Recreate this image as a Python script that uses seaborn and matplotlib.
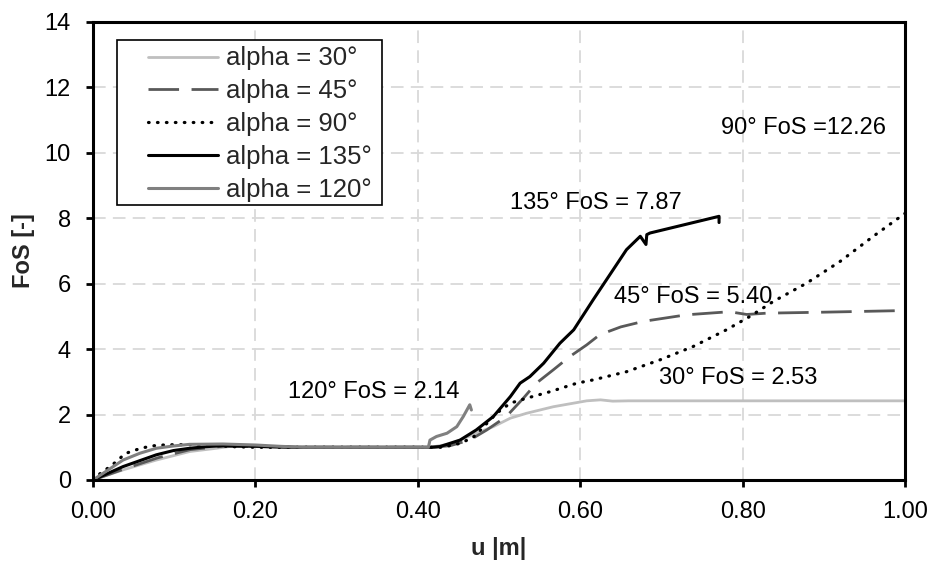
import matplotlib
matplotlib.use("Agg")
import matplotlib.pyplot as plt
from matplotlib.patches import Rectangle
import seaborn as sns
import pandas as pd

# Displacement u [m] and factor of safety for each inclination alpha
u30 = [0, 0.037, 0.078, 0.119, 0.152, 0.17, 0.2, 0.25, 0.415, 0.44, 0.455, 0.472,
       0.493, 0.514, 0.534, 0.567, 0.608, 0.625, 0.64, 0.66, 0.75, 1.0]
f30 = [0, 0.31, 0.61, 0.87, 0.97, 1.03, 1.02, 1.0, 1.0, 1.1, 1.25, 1.43,
       1.63, 1.89, 2.04, 2.24, 2.42, 2.45, 2.41, 2.42, 2.42, 2.42]

u45 = [0, 0.04, 0.08, 0.12, 0.16, 0.2, 0.25, 0.42, 0.44, 0.464, 0.485, 0.509,
       0.53, 0.546, 0.567, 0.587, 0.608, 0.624, 0.65, 0.678, 0.731, 0.776,
       0.79, 0.805, 0.83, 0.9, 1.0]
f45 = [0, 0.35, 0.68, 0.93, 1.03, 1.02, 1.0, 1.0, 1.05, 1.22, 1.53, 1.94,
       2.5, 2.96, 3.37, 3.77, 4.13, 4.44, 4.68, 4.85, 5.05, 5.13,
       5.12, 5.06, 5.1, 5.13, 5.18]

u90 = [0, 0.009, 0.021, 0.031, 0.039, 0.05, 0.058, 0.068, 0.076, 0.087, 0.1,
       0.13, 0.15, 0.17, 0.2, 0.25, 0.43, 0.452, 0.468, 0.48, 0.497, 0.514,
       0.534, 0.563, 0.596, 0.616, 0.657, 0.698, 0.739, 0.78, 0.809, 0.838,
       0.879, 0.92, 0.961, 1.0]
f90 = [0, 0.2, 0.41, 0.61, 0.8, 0.9, 0.96, 1.02, 1.05, 1.07, 1.08,
       1.08, 1.06, 1.02, 1.0, 1.0, 1.0, 1.12, 1.3, 1.6, 2.04, 2.35,
       2.5, 2.7, 2.96, 3.06, 3.31, 3.67, 4.08, 4.59, 5.0, 5.46,
       6.02, 6.68, 7.45, 8.15]

u135 = [0, 0.037, 0.078, 0.099, 0.119, 0.14, 0.16, 0.2, 0.25, 0.415, 0.427,
        0.452, 0.472, 0.493, 0.514, 0.526, 0.538, 0.555, 0.575, 0.592, 0.616,
        0.657, 0.674, 0.681, 0.682, 0.686, 0.771, 0.771]
f135 = [0, 0.41, 0.77, 0.9, 0.97, 1.02, 1.05, 1.03, 1.0, 1.0, 1.02,
        1.22, 1.53, 1.94, 2.55, 2.96, 3.16, 3.57, 4.18, 4.59, 5.51,
        7.04, 7.45, 7.2, 7.5, 7.55, 8.06, 7.87]

u120 = [0, 0.037, 0.058, 0.078, 0.099, 0.119, 0.16, 0.2, 0.23, 0.26, 0.413,
        0.415, 0.423, 0.436, 0.448, 0.456, 0.464, 0.466]
f120 = [0, 0.61, 0.82, 0.97, 1.04, 1.09, 1.1, 1.07, 1.03, 1.0, 1.0,
        1.22, 1.33, 1.43, 1.63, 1.94, 2.30, 2.14]

labels = ["alpha = 30°", "alpha = 45°", "alpha = 90°", "alpha = 135°", "alpha = 120°"]

# Annotations: text, x, y (data coordinates)
notes = [("135° FoS = 7.87", 0.619, 8.48),
         ("120° FoS = 2.14", 0.346, 2.69),
         ("45° FoS = 5.40", 0.739, 5.60),
         ("30° FoS = 2.53", 0.794, 3.12),
         ("90° FoS =12.26", 0.875, 10.77)]

sns.set_style("white")
plt.rcParams["font.family"] = ["Liberation Sans", "DejaVu Sans"]
FS = 17
LEG_FS = 18.5

W, H = 929, 561
fig = plt.figure(figsize=(W / 100, H / 100), dpi=100)
ax = fig.add_axes([93 / W, 1 - 480 / H, 812 / W, 458 / H])

series = [
    (u30, f30, labels[0], dict(color="#BFBFBF", lw=2.0, ls="-")),
    (u45, f45, labels[1], dict(color="#595959", lw=2.0, ls=(0, (11, 4.5)))),
    (u90, f90, labels[2], dict(color="black", lw=2.3, ls=(0, (0.2, 2.6)),
                               dash_capstyle="round")),
    (u135, f135, labels[3], dict(color="black", lw=2.2, ls="-")),
    (u120, f120, labels[4], dict(color="#808080", lw=2.2, ls="-")),
]

for u, f, lab, style in series:
    df = pd.DataFrame({"u": u, "FoS": f})
    sns.lineplot(data=df, x="u", y="FoS", ax=ax, sort=False, estimator=None,
                 label=lab, solid_joinstyle="round", **style)

ax.set_xlim(0, 1.0)
ax.set_ylim(0, 14)
ax.set_xticks([0, 0.2, 0.4, 0.6, 0.8, 1.0])
ax.set_xticklabels([f"{v:.2f}" for v in [0, 0.2, 0.4, 0.6, 0.8, 1.0]])
ax.set_yticks(range(0, 15, 2))
ax.set_yticklabels([str(v) for v in range(0, 15, 2)])

ax.grid(True, color="#D9D9D9", lw=1.3, ls=(0, (7, 4)))
ax.set_axisbelow(True)

for sp in ax.spines.values():
    sp.set_visible(True)
    sp.set_color("black")
    sp.set_linewidth(2.2)

ax.tick_params(axis="both", direction="out", length=5, width=2.0, color="black",
               labelsize=FS, labelcolor="black", bottom=True, left=True)
ax.tick_params(axis="x", pad=10)
ax.tick_params(axis="y", pad=11)

ax.set_xlabel("u |m|", fontsize=FS, fontweight="bold", labelpad=10)
ax.set_ylabel("FoS [-]", fontsize=FS, fontweight="bold", labelpad=7)

for txt, x, y in notes:
    ax.text(x, y, txt, fontsize=FS, ha="center", va="center", color="black")

# Legend entries without their own frame; a boxed panel is drawn behind them
leg = ax.legend(loc="upper left", bbox_to_anchor=((148 - 93) / 812, (480 - 46.5) / 458),
                fontsize=LEG_FS, frameon=False, handlelength=2.72,
                handletextpad=0.31, labelspacing=0.35, borderpad=0.0,
                borderaxespad=0)
leg.set_zorder(6)

fig.canvas.draw()
bb = leg.get_window_extent(fig.canvas.get_renderer())
x0, y_top, y_bot = 117, 40, 205
x1 = bb.x1 + 10
box = Rectangle((x0 / W, 1 - y_bot / H), (x1 - x0) / W, (y_bot - y_top) / H,
                transform=fig.transFigure, facecolor="white", edgecolor="black",
                lw=1.2, zorder=5)
ax.add_artist(box)

fig.savefig("out.png", dpi=100)
